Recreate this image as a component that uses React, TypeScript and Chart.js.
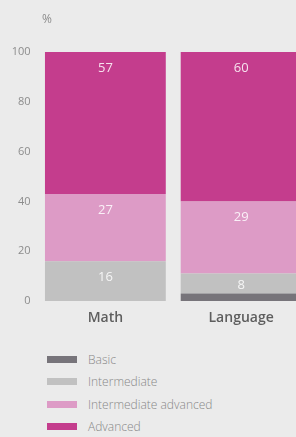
import React, { useEffect, useRef } from "react";
import { Chart, registerables } from "chart.js";

Chart.register(...registerables);

const categories = ["Math", "Language"];
const seriesNames = ["Basic", "Intermediate", "Intermediate advanced", "Advanced"];
const basic = [0, 3];
const intermediate = [16, 8];
const intermediateAdvanced = [27, 29];
const advanced = [57, 60];
const seriesColors = ["#77747a", "#c1c1c1", "#dd9bc6", "#c43d8d"];
const yTicks = [0, 20, 40, 60, 80, 100];
const unitLabel = "%";

const seriesValues = [basic, intermediate, intermediateAdvanced, advanced];

const segmentLabels = {
  id: "segmentLabels",
  afterDatasetsDraw(chart: any) {
    const ctx = chart.ctx;
    ctx.save();
    ctx.font = "13px 'Open Sans', sans-serif";
    ctx.fillStyle = "rgba(255,255,255,0.85)";
    ctx.textAlign = "center";
    ctx.textBaseline = "middle";
    chart.data.datasets.forEach((ds: any, di: number) => {
      const meta = chart.getDatasetMeta(di);
      meta.data.forEach((el: any, i: number) => {
        const v = ds.data[i];
        if (v < 5) return;
        const { x, y, base } = el.getProps(["x", "y", "base"], true);
        const h = base - y;
        const ty = y + Math.min(16, h / 2 + 2);
        ctx.fillText(String(v), x, ty);
      });
    });
    ctx.restore();
  },
};

const unitTitle = {
  id: "unitTitle",
  afterDraw(chart: any) {
    const ctx = chart.ctx;
    ctx.save();
    ctx.font = "12px 'Open Sans', sans-serif";
    ctx.fillStyle = "#8c8c8c";
    ctx.textAlign = "left";
    ctx.textBaseline = "middle";
    ctx.fillText(unitLabel, chart.chartArea.left + 4.5, chart.chartArea.top - 32);
    ctx.restore();
  },
};

export default function App() {
  const ref = useRef<HTMLCanvasElement>(null);

  useEffect(() => {
    document.body.style.margin = "0";
    document.body.style.background = "#ebebeb";
    if (!ref.current) return;
    Chart.defaults.font.family = "'Open Sans', sans-serif";
    const chart = new Chart(ref.current, {
      type: "bar",
      data: {
        labels: categories,
        datasets: seriesNames.map((name, i) => ({
          label: name,
          data: seriesValues[i],
          backgroundColor: seriesColors[i],
          borderWidth: 0,
          barPercentage: 0.89,
          categoryPercentage: 1,
        })),
      },
      options: {
        responsive: false,
        animation: false,
        layout: { padding: { top: 52, left: 0, right: 0, bottom: 0 } },
        plugins: {
          legend: { display: false },
          tooltip: { enabled: false },
          title: { display: false },
        },
        scales: {
          x: {
            stacked: true,
            grid: { display: false, drawTicks: false },
            border: { display: false },
            ticks: {
              color: "#5e5e5e",
              font: { size: 14, weight: 600 },
              padding: 9,
            },
            afterFit: (s: any) => {
              s.height = 34;
            },
          },
          y: {
            stacked: true,
            min: 0,
            max: 100,
            afterBuildTicks: (s: any) => {
              s.ticks = yTicks.map((v) => ({ value: v }));
            },
            grid: { display: false, drawTicks: false },
            border: { display: false },
            ticks: {
              color: "#8c8c8c",
              font: { size: 11 },
              padding: 7,
            },
            afterFit: (s: any) => {
              s.width = 37.5;
            },
          },
        },
      },
      plugins: [segmentLabels, unitTitle],
    } as any);
    return () => chart.destroy();
  }, []);

  return (
    <div
      style={{
        position: "relative",
        width: 296,
        height: 437,
        overflow: "hidden",
        background: "#ebebeb",
      }}
    >
      <canvas
        ref={ref}
        width={309}
        height={335}
        style={{ display: "block", position: "absolute", left: 0, top: 0 }}
      />
      <div style={{ position: "absolute", left: 47, top: 348 }}>
        {seriesNames.map((name, i) => (
          <div
            key={name}
            style={{
              display: "flex",
              alignItems: "center",
              height: 22.5,
              fontFamily: "'Open Sans', sans-serif",
              fontSize: 12,
              fontWeight: 300,
              color: "#888888",
              whiteSpace: "nowrap",
            }}
          >
            <span
              style={{
                display: "inline-block",
                width: 30,
                height: 7,
                background: seriesColors[i],
                marginRight: 11,
              }}
            />
            {name}
          </div>
        ))}
      </div>
    </div>
  );
}
